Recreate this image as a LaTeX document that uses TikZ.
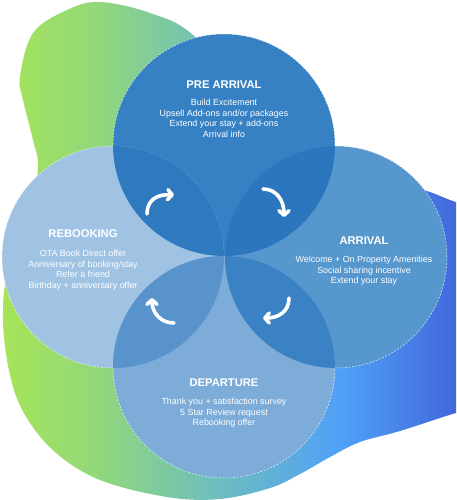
\documentclass[tikz,border=0pt]{standalone}
\usepackage{fontspec}
\setmainfont{Liberation Sans}
\usetikzlibrary{arrows.meta}
\definecolor{cPre}{RGB}{54,129,196}
\definecolor{cReb}{RGB}{160,195,228}
\definecolor{cArr}{RGB}{86,151,205}
\definecolor{cDep}{RGB}{124,172,215}
\definecolor{cPR}{RGB}{47,121,190}
\definecolor{cPA}{RGB}{43,118,188}
\definecolor{cRD}{RGB}{88,148,203}
\definecolor{cAD}{RGB}{58,130,196}
\definecolor{g1}{RGB}{166,228,88}
\definecolor{g2}{RGB}{145,215,125}
\definecolor{g3}{RGB}{112,192,185}
\definecolor{g4}{RGB}{80,160,248}
\definecolor{g5}{RGB}{64,96,216}
\pgfdeclarehorizontalshading{blobshade}{100bp}{color(0bp)=(g1); color(25bp)=(g1); color(35bp)=(g2); color(45.6bp)=(g3); color(59.3bp)=(g4); color(72.5bp)=(g5); color(100bp)=(g5)}
\begin{document}
\begin{tikzpicture}[x=1pt,y=-1pt,
  disc/.style={circle,inner sep=0pt,minimum size=222pt,draw=none},
  rim/.style={draw=white,line width=0.5pt,dash pattern=on 2pt off 1.5pt,opacity=0.8},
  ttl/.style={text=white,font=\fontsize{11.2}{13}\selectfont\bfseries,inner sep=0pt},
  bodytxt/.style={text=white,font=\fontsize{8.9}{10.5}\selectfont,align=center,inner sep=0pt,anchor=north},
  turn/.style={draw=white,line width=3.6pt,line cap=round,-{Straight Barb[length=4.5pt,width=10pt,round]}}]
\useasboundingbox (0,0) rectangle (456,500);
% background blob
\begin{scope}
\clip (0,0) rectangle (456,500);
\shade[shading=blobshade] plot[smooth cycle,tension=0.6] coordinates {
 (38,167) (30,210) (8,270) (3,320) (10,375) (25,415) (55,452) (100,480)
 (167,497) (220,499) (270,488) (300,474) (330,457) (360,442) (400,431)
 (456,413) (490,405) (490,210) (456,202) (427,191) (395,183) (330,180)
 (250,100) (193,35) (150,13) (100,2) (67,10) (33,33) (20,77) (23,100) (33,140)};
\end{scope}
% circles
\node[disc,fill=cPre] (pre) at (224,145) {};
\node[disc,fill=cReb] (reb) at (113,257) {};
\node[disc,fill=cArr] (arr) at (336,257) {};
\node[disc,fill=cDep] (dep) at (224,367) {};
% lenses
\begin{scope}\clip (224,145) circle (111pt); \fill[cPR] (113,257) circle (111pt);\end{scope}
\begin{scope}\clip (224,145) circle (111pt); \fill[cPA] (336,257) circle (111pt);\end{scope}
\begin{scope}\clip (224,367) circle (111pt); \fill[cRD] (113,257) circle (111pt);\end{scope}
\begin{scope}\clip (224,367) circle (111pt); \fill[cAD] (336,257) circle (111pt);\end{scope}
% outer dashed rims
\begin{scope}[even odd rule]\clip (-20,-20) rectangle (480,520) (113,257) circle (111pt) (336,257) circle (111pt);
 \draw[rim] (224,145) circle (111pt);\end{scope}
\begin{scope}[even odd rule]\clip (-20,-20) rectangle (480,520) (224,145) circle (111pt) (224,367) circle (111pt);
 \draw[rim] (336,257) circle (111pt);\end{scope}
\begin{scope}[even odd rule]\clip (-20,-20) rectangle (480,520) (113,257) circle (111pt) (336,257) circle (111pt);
 \draw[rim] (224,367) circle (111pt);\end{scope}
\begin{scope}[even odd rule]\clip (-20,-20) rectangle (480,520) (224,145) circle (111pt) (224,367) circle (111pt);
 \draw[rim] (113,257) circle (111pt);\end{scope}
% texts
\node[ttl] (preT) at (224,85) {PRE ARRIVAL};
\node[bodytxt] (preB) at (224,99.3) {Build Excitement\\Upsell Add-ons and/or packages\\Extend your stay + add-ons\\Arrival info};
\node[ttl] (rebT) at (83,234) {REBOOKING};
\node[bodytxt] (rebB) at (83,250.3) {OTA Book Direct offer\\Anniversary of booking/stay\\Refer a friend\\Birthday + anniversary offer};
\node[ttl] (arrT) at (364,241) {ARRIVAL};
\node[bodytxt] (arrB) at (364,256.3) {Welcome + On Property Amenities\\Social sharing incentive\\Extend your stay};
\node[ttl] (depT) at (224,383) {DEPARTURE};
\node[bodytxt] (depB) at (224,398.3) {Thank you + satisfaction survey\\5 Star Review request\\Rebooking offer};
% turning arrows
\coordinate (a1s) at (147,214); \coordinate (a1e) at (174,195);
\coordinate (a2s) at (263,189); \coordinate (a2e) at (284,217);
\coordinate (a3s) at (289,298); \coordinate (a3e) at (263,318);
\coordinate (a4s) at (174,323); \coordinate (a4e) at (152,298);
\draw[turn] (a1s) .. controls (147,200) and (157,194) .. (a1e);
\draw[turn] (a2s) .. controls (277,189) and (284,201) .. (a2e);
\draw[turn] (a3s) .. controls (289,312) and (278,318) .. (a3e);
\draw[turn] (a4s) .. controls (160,323) and (152,312) .. (a4e);
\end{tikzpicture}
\end{document}
